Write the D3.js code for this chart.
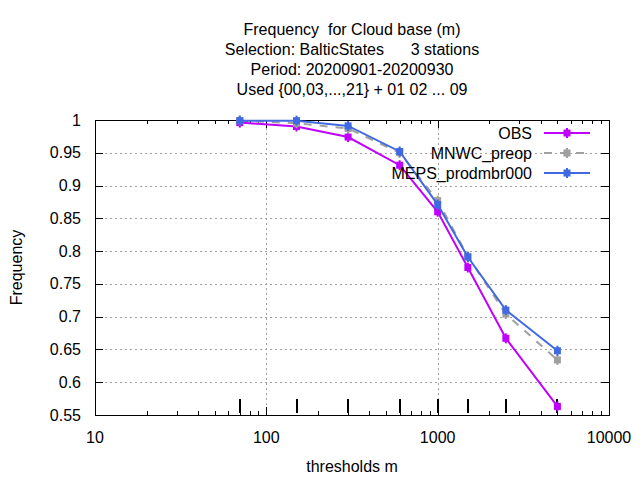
<!DOCTYPE html>
<html>
<head>
<meta charset="utf-8">
<script src="https://cdn.jsdelivr.net/npm/d3@7"></script>
<style>
  body { margin: 0; background: #fff; }
  text { font-family: "Liberation Sans", Arial, sans-serif; font-size: 16px; fill: #000; }
</style>
</head>
<body>
<div id="chart"></div>
<script>
// thresholds (m) and frequencies per series
const thresholds = [70, 150, 300, 600, 1000, 1500, 2500, 5000];
const obsValues = [0.996, 0.990, 0.974, 0.931, 0.860, 0.775, 0.667, 0.563];
const mnwcValues = [0.999, 0.995, 0.987, 0.950, 0.877, 0.792, 0.704, 0.634];
const mepsValues = [0.999, 0.999, 0.991, 0.952, 0.871, 0.791, 0.710, 0.648];

const seriesNames = ['OBS', 'MNWC_preop', 'MEPS_prodmbr000'];
const seriesColors = ['#c000ff', '#a0a0a0', '#4169e1'];
const yTicks = [0.55, 0.6, 0.65, 0.7, 0.75, 0.8, 0.85, 0.9, 0.95, 1];
const xTicks = [10, 100, 1000, 10000];
const titleLines = [
  'Frequency  for Cloud base (m)',
  'Selection: BalticStates      3 stations',
  'Period: 20200901-20200930',
  'Used {00,03,...,21} + 01 02 ... 09'
];

const width = 640, height = 480;
const margin = { left: 95, right: 31, top: 120, bottom: 65 };
const x0 = margin.left, x1 = width - margin.right;
const y0 = height - margin.bottom, y1 = margin.top;

const svg = d3.select('#chart').append('svg')
  .attr('width', width).attr('height', height);

const x = d3.scaleLog().domain([10, 10000]).range([x0, x1]);
const y = d3.scaleLinear().domain([0.55, 1]).range([y0, y1]);

// grid
const grid = svg.append('g').attr('stroke', '#a0a0a0').attr('stroke-width', 1)
  .attr('stroke-dasharray', '2,3');
grid.selectAll('.gy').data(yTicks.filter(d => d > 0.55 && d < 1)).enter().append('line')
  .attr('x1', x0).attr('x2', x1)
  .attr('y1', d => Math.round(y(d)) + 0.5).attr('y2', d => Math.round(y(d)) + 0.5);
grid.selectAll('.gx').data([100, 1000]).enter().append('line')
  .attr('y1', y0).attr('y2', y1)
  .attr('x1', d => Math.round(x(d)) + 0.5).attr('x2', d => Math.round(x(d)) + 0.5);

// ticks
const tickG = svg.append('g').attr('stroke', '#000').attr('stroke-width', 1);
yTicks.forEach(v => {
  const yy = Math.round(y(v)) + 0.5;
  tickG.append('line').attr('x1', x0).attr('x2', x0 + 8).attr('y1', yy).attr('y2', yy);
  tickG.append('line').attr('x1', x1 - 8).attr('x2', x1).attr('y1', yy).attr('y2', yy);
});
const minor = [];
[10, 100, 1000].forEach(dec => { for (let k = 2; k <= 9; k++) minor.push(dec * k); });
minor.forEach(v => {
  const xx = Math.round(x(v)) + 0.5;
  tickG.append('line').attr('x1', xx).attr('x2', xx).attr('y1', y0).attr('y2', y0 - 4);
  tickG.append('line').attr('x1', xx).attr('x2', xx).attr('y1', y1).attr('y2', y1 + 4);
});
xTicks.forEach(v => {
  const xx = Math.round(x(v)) + 0.5;
  tickG.append('line').attr('x1', xx).attr('x2', xx).attr('y1', y0).attr('y2', y0 - 8);
  tickG.append('line').attr('x1', xx).attr('x2', xx).attr('y1', y1).attr('y2', y1 + 8);
});

// threshold markers along the bottom
svg.append('g').selectAll('line').data(thresholds).enter().append('line')
  .attr('x1', d => Math.round(x(d))).attr('x2', d => Math.round(x(d)))
  .attr('y1', y0 - 2).attr('y2', y0 - 16)
  .attr('stroke', '#000').attr('stroke-width', 2);

// border
svg.append('rect').attr('x', x0 + 0.5).attr('y', y1 + 0.5)
  .attr('width', x1 - x0).attr('height', y0 - y1)
  .attr('fill', 'none').attr('stroke', '#000').attr('stroke-width', 1);

// tick labels
svg.append('g').selectAll('text').data(yTicks).enter().append('text')
  .attr('x', x0 - 14).attr('y', d => y(d)).attr('dy', '0.35em')
  .attr('text-anchor', 'end').text(d => d);
svg.append('g').selectAll('text').data(xTicks).enter().append('text')
  .attr('x', d => x(d)).attr('y', y0 + 22).attr('dy', '0.35em')
  .attr('text-anchor', 'middle').text(d => d);

// axis titles
svg.append('text').attr('x', (x0 + x1) / 2).attr('y', 466).attr('dy', '0.35em')
  .attr('text-anchor', 'middle').text('thresholds m');
svg.append('text').attr('transform', `translate(16,${(y0 + y1) / 2}) rotate(-90)`)
  .attr('dy', '0.35em').attr('text-anchor', 'middle').text('Frequency');

// title
svg.append('g').selectAll('text').data(titleLines).enter().append('text')
  .attr('x', (x0 + x1) / 2).attr('y', (d, i) => 29 + i * 20).attr('dy', '0.35em')
  .attr('text-anchor', 'middle').style('white-space', 'pre').text(d => d);

// series
const allValues = [obsValues, mnwcValues, mepsValues];
const line = d3.line().x(d => x(d[0])).y(d => y(d[1]));
function marker(g, cx, cy, color) {
  g.append('rect').attr('x', cx - 3.5).attr('y', cy - 3.5).attr('width', 7).attr('height', 7).attr('fill', color);
  g.append('rect').attr('x', cx - 1).attr('y', cy - 5).attr('width', 2).attr('height', 10).attr('fill', color);
}
// draw order: OBS, MNWC, MEPS (MEPS on top)
allValues.forEach((vals, i) => {
  const pts = thresholds.map((t, j) => [t, vals[j]]);
  const g = svg.append('g');
  g.append('path').datum(pts).attr('d', line)
    .attr('fill', 'none').attr('stroke', seriesColors[i]).attr('stroke-width', 2)
    .attr('stroke-dasharray', i === 1 ? '8,8' : null);
  pts.forEach(p => marker(g, x(p[0]), y(p[1]), seriesColors[i]));
});

// legend
const legend = svg.append('g');
seriesNames.forEach((name, i) => {
  const ly = 133 + i * 20;
  legend.append('text').attr('x', 532).attr('y', ly).attr('dy', '0.35em')
    .attr('text-anchor', 'end').text(name);
  legend.append('line').attr('x1', 544).attr('x2', 590).attr('y1', ly).attr('y2', ly)
    .attr('stroke', seriesColors[i]).attr('stroke-width', 2)
    .attr('stroke-dasharray', i === 1 ? '8,8' : null);
  marker(legend, 567, ly, seriesColors[i]);
});
</script>
</body>
</html>
